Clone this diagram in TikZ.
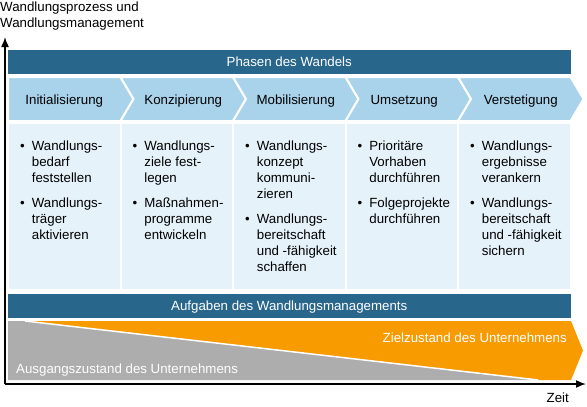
\documentclass[tikz,border=0pt]{standalone}
\usepackage{fontspec}
\setmainfont{Liberation Sans}
\usetikzlibrary{arrows.meta,positioning,calc}

\definecolor{wdark}{RGB}{41,102,140}
\definecolor{wlight}{RGB}{169,210,235}
\definecolor{wpale}{RGB}{230,242,250}
\definecolor{worange}{RGB}{247,155,0}
\definecolor{wgray}{RGB}{173,173,173}

\newcommand{\tsk}[1]{\textbullet & \begin{tabular}[t]{@{}l@{}}#1\end{tabular}}
\newcommand{\tskgap}{\\\noalign{\vskip 9pt}}

\tikzset{
	bar/.style={fill=wdark,text=white,minimum width=562.5pt,minimum height=24pt,inner sep=0pt,text height=9.5pt,text depth=0pt},
	phase/.style={fill=wlight,draw=white,line width=2pt,line join=miter},
	col/.style={fill=wpale,draw=white,line width=2pt},
	task/.style={anchor=north west,inner sep=0pt},
	axis/.style={line width=1.5pt,-{Latex[length=10pt,width=8pt]}}
}

\begin{document}
\begin{tikzpicture}[x=1pt,y=-1pt,font=\fontsize{13.3}{16}\selectfont]
			\useasboundingbox (0,0) rectangle (587,407);
			\node[bar] (phasen) at (289.25,62) {Phasen des Wandels};
			\foreach \name/\txt/\dx [count=\i from 0] in {init/Initialisierung/0,konz/Konzipierung/0,mobil/Mobilisierung/0,umsetz/Umsetzung/-4,verst/Verstetigung/0}{
				\pgfmathsetmacro\xa{8+112.5*\i}
				\pgfmathsetmacro\xb{\xa+112.5}
				\pgfmathsetmacro\nx{\i>0 ? 13 : 0}
				\draw[phase] (\xa,77) -- (\xb,77) -- (\xb+13,99) -- (\xb,121) -- (\xa,121) -- (\xa+\nx,99) -- cycle;
				\node[anchor=base,inner sep=0pt] (\name) at ({(\xa+\nx+\xb)/2+\dx},104) {\txt};
				\draw[col] (\xa,123) rectangle ++(112.5,167);
			}
			\node[task] (t1) at (20,139) {\begin{tabular}{@{}l@{\hspace{7pt}}l@{}}\tsk{Wandlungs-\\bedarf\\feststellen}\tskgap\tsk{Wandlungs-\\träger\\aktivieren}\end{tabular}};
			\node[task] (t2) at (132.5,139) {\begin{tabular}{@{}l@{\hspace{7pt}}l@{}}\tsk{Wandlungs-\\ziele fest-\\legen}\tskgap\tsk{Maßnahmen-\\programme\\entwickeln}\end{tabular}};
			\node[task] (t3) at (245,139) {\begin{tabular}{@{}l@{\hspace{7pt}}l@{}}\tsk{Wandlungs-\\konzept\\kommuni-\\zieren}\tskgap\tsk{Wandlungs-\\bereitschaft\\und -fähigkeit\\schaffen}\end{tabular}};
			\node[task] (t4) at (357.5,139) {\begin{tabular}{@{}l@{\hspace{7pt}}l@{}}\tsk{Prioritäre\\Vorhaben\\durchführen}\tskgap\tsk{Folgeprojekte\\durchführen}\end{tabular}};
			\node[task] (t5) at (470,139) {\begin{tabular}{@{}l@{\hspace{7pt}}l@{}}\tsk{Wandlungs-\\ergebnisse\\verankern}\tskgap\tsk{Wandlungs-\\bereitschaft\\und -fähigkeit\\sichern}\end{tabular}};
			\node[bar] (aufgaben) at (289.25,305.5) {Aufgaben des Wandlungsmanagements};
			\fill[wgray] (8,321) -- (25,321) -- (538,380) -- (8,380) -- cycle;
			\fill[worange] (25,321) -- (571,321) -- (583,350.5) -- (571,380) -- (538,380) -- cycle;
			\draw[white,line width=1.5pt] (25,321) -- (538,380);
			\node[anchor=base east,inner sep=0pt,text=white] (ziel) at (567,342) {Zielzustand des Unternehmens};
			\node[anchor=base west,inner sep=0pt,text=white] (ausgang) at (16,373.5) {Ausgangszustand des Unternehmens};
			\coordinate (origin) at (5,384);
			\coordinate (yend) at (5,37);
			\coordinate (xend) at (586,384);
			\draw[axis] (origin) -- (yend);
			\draw[axis] (origin) -- (xend);
			\node[anchor=north west,inner sep=0pt,align=left] (ylabel) at (0,2) {Wandlungsprozess und\\Wandlungsmanagement};
			\node[anchor=base east,inner sep=0pt] (xlabel) at (569,402) {Zeit};
\end{tikzpicture}
\end{document}
